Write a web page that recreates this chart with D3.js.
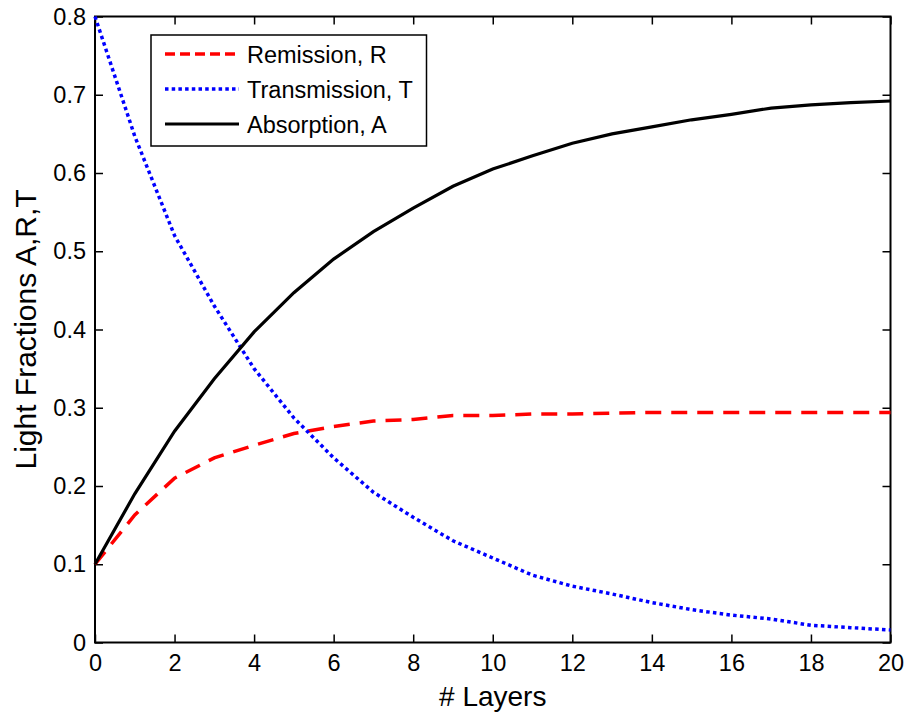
<!DOCTYPE html>
<html>
<head>
<meta charset="utf-8">
<script src="https://cdn.jsdelivr.net/npm/d3@7"></script>
<style>
  html, body { margin: 0; padding: 0; background: #fff; }
  svg { display: block; font-family: "Liberation Sans", Arial, sans-serif; }
</style>
</head>
<body>
<svg id="chart" width="907" height="716"></svg>
<script>
// ---- data ----
const layers = [0,1,2,3,4,5,6,7,8,9,10,11,12,13,14,15,16,17,18,19,20];
const remission = [0.100,0.163,0.210,0.236,0.252,0.267,0.276,0.283,0.285,0.290,0.290,0.292,0.292,0.293,0.294,0.294,0.294,0.294,0.294,0.294,0.294];
const transmission = [0.800,0.647,0.520,0.430,0.350,0.287,0.236,0.192,0.160,0.130,0.108,0.086,0.072,0.062,0.051,0.042,0.035,0.030,0.022,0.019,0.016];
const absorption = [0.100,0.190,0.270,0.337,0.397,0.447,0.490,0.525,0.555,0.583,0.605,0.622,0.638,0.650,0.659,0.668,0.675,0.683,0.687,0.690,0.692];
const xTicks = [0,2,4,6,8,10,12,14,16,18,20];
const yTicks = [0,0.1,0.2,0.3,0.4,0.5,0.6,0.7,0.8];
const yTickLabels = ["0","0.1","0.2","0.3","0.4","0.5","0.6","0.7","0.8"];
const seriesNames = ["Remission, R","Transmission, T","Absorption, A"];
const xLabel = "# Layers";
const yLabel = "Light Fractions A,R,T";

// ---- layout ----
const L = 95, R = 890.5, T = 16.5, B = 642.5;
const svg = d3.select("#chart");
const x = d3.scaleLinear().domain([0,20]).range([L,R]);
const y = d3.scaleLinear().domain([0,0.8]).range([B,T]);

const tickFont = "23.5px";
const tickLen = 8;

// bottom axis
const gB = svg.append("g").attr("transform",`translate(0,${B})`)
  .call(d3.axisBottom(x).tickValues(xTicks).tickFormat(d3.format("d")).tickSizeInner(-tickLen).tickSizeOuter(0).tickPadding(12));
// top axis
const gT = svg.append("g").attr("transform",`translate(0,${T})`)
  .call(d3.axisTop(x).tickValues(xTicks).tickFormat("").tickSizeInner(-tickLen).tickSizeOuter(0));
// left axis
const gL = svg.append("g").attr("transform",`translate(${L},0)`)
  .call(d3.axisLeft(y).tickValues(yTicks).tickFormat((d,i)=>yTickLabels[i]).tickSizeInner(-tickLen).tickSizeOuter(0).tickPadding(9));
// right axis
const gR = svg.append("g").attr("transform",`translate(${R},0)`)
  .call(d3.axisRight(y).tickValues(yTicks).tickFormat("").tickSizeInner(-tickLen).tickSizeOuter(0));

[gB,gT,gL,gR].forEach(g=>{
  g.select(".domain").remove();
  g.selectAll(".tick line").attr("stroke","#000").attr("stroke-width",1.5);
  g.selectAll(".tick text").attr("fill","#000").style("font-size",tickFont).style("font-family","'Liberation Sans', Arial, sans-serif");
});

// frame
svg.append("rect").attr("x",L).attr("y",T).attr("width",R-L).attr("height",B-T)
  .attr("fill","none").attr("stroke","#000").attr("stroke-width",2);

// lines
const styles = [
  {color:"#ff0000", width:3.5, dash:"16,10"},
  {color:"#0000ff", width:3.5, dash:"3.5,3.3"},
  {color:"#000000", width:3.2, dash:null}
];
const series = [remission, transmission, absorption];
const line = d3.line().x((d,i)=>x(layers[i])).y(d=>y(d));
series.forEach((s,k)=>{
  svg.append("path").datum(s).attr("d",line)
    .attr("fill","none").attr("stroke",styles[k].color)
    .attr("stroke-width",styles[k].width)
    .attr("stroke-dasharray",styles[k].dash);
});

// legend
const lg = svg.append("g");
lg.append("rect").attr("x",151).attr("y",35).attr("width",275.5).attr("height",111)
  .attr("fill","#fff").attr("stroke","#000").attr("stroke-width",1.5);
const legDash = ["10,5","3.5,3.2",null];
seriesNames.forEach((name,k)=>{
  const cy = 54 + k*35;
  lg.append("line").attr("x1",165).attr("x2",239).attr("y1",cy).attr("y2",cy)
    .attr("stroke",styles[k].color).attr("stroke-width",styles[k].width)
    .attr("stroke-dasharray",legDash[k]);
  lg.append("text").attr("x",247).attr("y",cy+8.5).text(name)
    .style("font-size","23.5px").attr("fill","#000");
});

// axis labels
svg.append("text").attr("x",(L+R)/2).attr("y",706).attr("text-anchor","middle")
  .style("font-size","28px").attr("fill","#000").text(xLabel);
svg.append("text").attr("transform",`translate(36,${(T+B)/2}) rotate(-90)`)
  .attr("text-anchor","middle").style("font-size","30px").attr("fill","#000").text(yLabel);
</script>
</body>
</html>
